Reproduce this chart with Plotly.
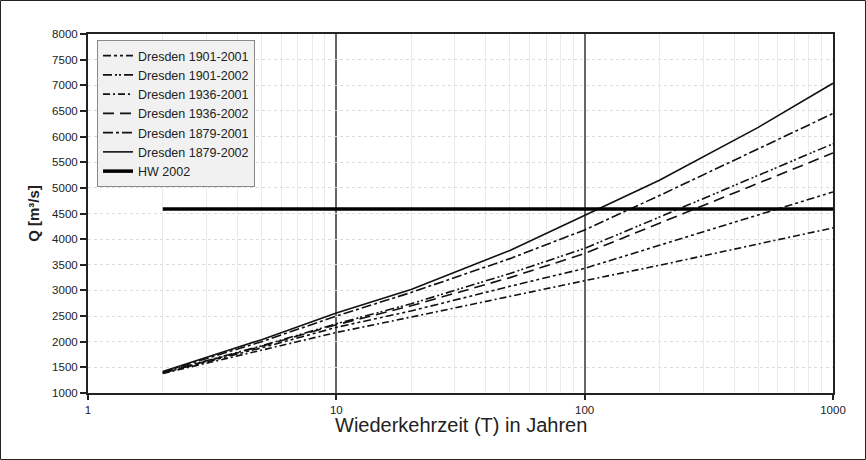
import plotly.graph_objects as go

# Return periods (years)
T = [2, 5, 10, 20, 50, 100, 200, 500, 1000]

q_1901_2001 = [1390, 1880, 2280, 2600, 3080, 3430, 3880, 4470, 4920]
q_1901_2002 = [1400, 1920, 2350, 2740, 3330, 3820, 4430, 5240, 5860]
q_1936_2001 = [1380, 1840, 2180, 2480, 2890, 3190, 3490, 3900, 4220]
q_1936_2002 = [1390, 1910, 2330, 2700, 3250, 3720, 4310, 5090, 5680]
q_1879_2001 = [1410, 2000, 2500, 2960, 3620, 4180, 4850, 5760, 6450]
q_1879_2002 = [1420, 2040, 2560, 3020, 3780, 4460, 5150, 6180, 7040]

hw_T = [2, 1000]
hw_2002 = [4590, 4590]

series = [
    ("Dresden 1901-2001", q_1901_2001, "8px,3px,3px,3px,3px,3px"),
    ("Dresden 1901-2002", q_1901_2002, "9px,3px,2px,2px,2px,3px"),
    ("Dresden 1936-2001", q_1936_2001, "7px,3px,2px,3px"),
    ("Dresden 1936-2002", q_1936_2002, "11px,6px"),
    ("Dresden 1879-2001", q_1879_2001, "10px,3px,3px,3px"),
    ("Dresden 1879-2002", q_1879_2002, "solid"),
]

fig = go.Figure()
for name, vals, dash in series:
    fig.add_trace(go.Scatter(x=T, y=vals, mode="lines", name=name,
                             line=dict(color="#111111", width=1.6, dash=dash)))
fig.add_trace(go.Scatter(x=hw_T, y=hw_2002, mode="lines", name="HW 2002",
                         line=dict(color="#000000", width=3.5)))

L, R, TOP, B = 88, 33, 34, 67
W, H = 866, 460
pw, ph = W - L - R, H - TOP - B

font_fam = "Arial, Liberation Sans, Helvetica, sans-serif"

fig.update_layout(
    width=W, height=H,
    margin=dict(l=L, r=R, t=TOP, b=B, autoexpand=False),
    paper_bgcolor="white", plot_bgcolor="white",
    font=dict(family=font_fam, color="#222222", size=11.5),
    showlegend=True,
    legend=dict(x=(97 - L) / pw, y=(H - B - 40) / ph, xanchor="left", yanchor="top",
                bgcolor="#f1f1f1", bordercolor="#8a8a8a", borderwidth=1,
                font=dict(size=12.5, color="#222222"), tracegroupgap=0),
    shapes=[dict(type="rect", xref="paper", yref="paper",
                 x0=-(L - 0.5) / pw, x1=1 + (R - 0.5) / pw,
                 y0=-(B - 0.5) / ph, y1=1 + (TOP - 0.5) / ph,
                 line=dict(color="#222222", width=1))],
    annotations=[dict(text="Wiederkehrzeit (T) in Jahren", xref="paper", yref="paper",
                      x=0.5, y=-(412 - (H - B)) / ph, xanchor="center", yanchor="top",
                      showarrow=False, font=dict(size=20, color="#222"))],
)

fig.update_xaxes(
    type="log", range=[0, 3],
    tickvals=[1, 10, 100, 1000], ticktext=["1", "10", "100", "1000"],
    ticks="outside", ticklen=5, tickcolor="#222", tickwidth=1.5,
    showline=True, linecolor="#222", linewidth=2, mirror=True,
    showgrid=True, gridcolor="#666666", gridwidth=1.5,
    minor=dict(dtick="D1", showgrid=True, gridcolor="#ebebeb", gridwidth=1, ticks=""),
    tickfont=dict(size=11.5),
    zeroline=False, automargin=False,
)
fig.update_yaxes(
    range=[1000, 8000], dtick=500,
    ticks="outside", ticklen=6, tickcolor="#222", tickwidth=1.5,
    showline=True, linecolor="#222", linewidth=2, mirror=True,
    showgrid=True, gridcolor="#dcdcdc", gridwidth=1, griddash="dot",
    tickfont=dict(size=11.5),
    title=dict(text="<b>Q [m³/s]</b>", font=dict(size=15, color="#222"), standoff=9),
    zeroline=False, automargin=False,
)

fig.write_html("out.html", config={"displayModeBar": False},
               post_script="document.body.style.margin='0';document.body.style.padding='0';")
